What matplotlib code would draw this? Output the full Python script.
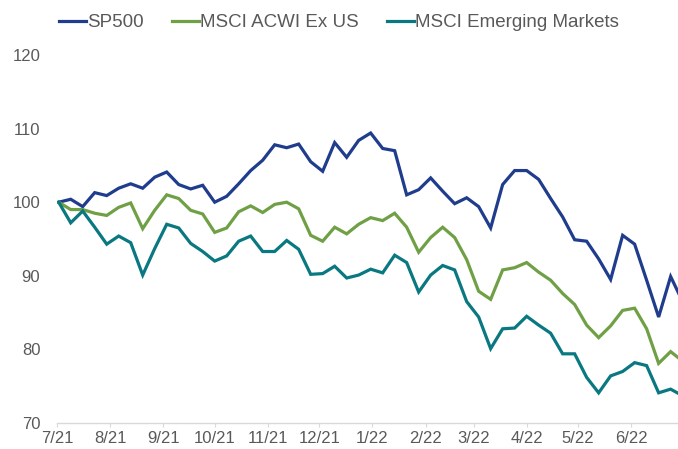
# Weekly index levels (rebased to 100) for SP500, ACWI ex US and EM, Jul 2021 - Jun 2022

import matplotlib
matplotlib.use("Agg")
import matplotlib.pyplot as plt
import matplotlib.dates as mdates
import pandas as pd

plt.rcParams['font.family'] = ['Liberation Sans', 'DejaVu Sans']

dates = pd.date_range("2021-07-02", periods=53, freq="7D")

sp500 = [100.0, 100.4, 99.4, 101.3, 100.9, 101.9, 102.5, 101.9, 103.4, 104.1,
         102.4, 101.8, 102.3, 100.0, 100.8, 102.5, 104.3, 105.7, 107.8, 107.4,
         107.9, 105.5, 104.2, 108.1, 106.1, 108.4, 109.4, 107.3, 107.0, 101.0,
         101.7, 103.3, 101.5, 99.8, 100.6, 99.4, 96.5, 102.4, 104.3, 104.3,
         103.1, 100.5, 98.0, 94.9, 94.7, 92.3, 89.5, 95.5, 94.3, 89.4,
         84.4, 89.9, 86.5]
acwi_ex_us = [100.0, 99.0, 99.0, 98.5, 98.2, 99.3, 99.9, 96.4, 98.9, 101.0,
              100.5, 98.9, 98.4, 95.9, 96.5, 98.7, 99.5, 98.6, 99.7, 100.0,
              99.1, 95.5, 94.7, 96.6, 95.7, 97.0, 97.9, 97.5, 98.5, 96.6,
              93.2, 95.2, 96.6, 95.2, 92.2, 87.9, 86.8, 90.8, 91.1, 91.8,
              90.5, 89.4, 87.6, 86.1, 83.3, 81.6, 83.2, 85.3, 85.6, 82.8,
              78.1, 79.7, 78.4]
emerging = [100.0, 97.2, 98.8, 96.6, 94.3, 95.4, 94.5, 90.1, 93.7, 97.0,
            96.5, 94.4, 93.3, 92.0, 92.7, 94.7, 95.4, 93.3, 93.3, 94.8,
            93.6, 90.2, 90.3, 91.3, 89.7, 90.1, 90.9, 90.4, 92.8, 91.8,
            87.8, 90.1, 91.4, 90.8, 86.5, 84.4, 80.1, 82.8, 82.9, 84.5,
            83.3, 82.2, 79.4, 79.4, 76.2, 74.1, 76.4, 77.0, 78.2, 77.8,
            74.1, 74.6, 73.7]

series_names = ["SP500", "MSCI ACWI Ex US", "MSCI Emerging Markets"]
month_ticks = pd.date_range("2021-07-01", "2022-06-01", freq="MS")
month_labels = [f"{d.month}/{d.strftime('%y')}" for d in month_ticks]

colors = ['#1F3D8C', '#70A046', '#0A7880']
text_color = '#595959'
axis_color = '#D9D9D9'

fig = plt.figure(figsize=(6.78, 4.49), dpi=100)
fig.patch.set_facecolor('white')
ax = fig.add_axes([57 / 678, 26 / 449, 1 - 57 / 678, (423 - 55) / 449])

for vals, name, c in zip([sp500, acwi_ex_us, emerging], series_names, colors):
    ax.plot(dates, vals, color=c, lw=2.3, label=name, solid_joinstyle='miter')

start = mdates.date2num(pd.Timestamp("2021-07-01"))
ax.set_xlim(start, start + 362.3)
ax.set_ylim(70, 120)
ax.set_yticks([70, 80, 90, 100, 110, 120])

ax.set_xticks(month_ticks)
ax.set_xticklabels(month_labels)

for s in ['top', 'right', 'left']:
    ax.spines[s].set_visible(False)
ax.spines['bottom'].set_color(axis_color)
ax.spines['bottom'].set_linewidth(1)

ax.tick_params(axis='y', length=0, pad=12, labelsize=12, labelcolor=text_color)
ax.tick_params(axis='x', length=3, color=axis_color, pad=3, labelsize=12,
               labelcolor=text_color)

leg = fig.legend(loc='center', bbox_to_anchor=(0.5, 1 - 22.5 / 449), ncol=3,
                 frameon=False, fontsize=13.5, handlelength=1.45,
                 handletextpad=0.05, columnspacing=1.5)
for t in leg.get_texts():
    t.set_color(text_color)

plt.savefig("out.png", dpi=100)
